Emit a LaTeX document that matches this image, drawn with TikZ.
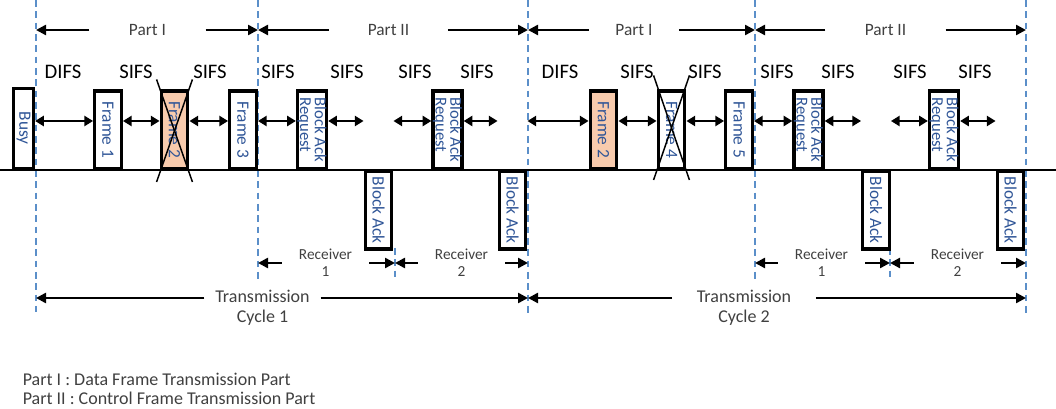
\documentclass[tikz,border=0pt]{standalone}
\usepackage{fontspec}
\setsansfont{Carlito}
\usetikzlibrary{arrows.meta, positioning, calc}
\definecolor{cblue}{HTML}{2F5597}
\definecolor{cdash}{HTML}{5B8FC9}
\definecolor{corange}{HTML}{F8CBAD}
\definecolor{cgrey}{HTML}{404040}
\tikzset{
  every picture/.style={font=\sffamily, line width=1.2pt},
  pkt/.style={draw=black, fill=#1, line width=2.4pt, minimum width=20pt, minimum height=58pt, inner sep=0pt, text=cblue, font=\sffamily\fontsize{13}{14}\selectfont},
  pkt/.default=white,
  ctrl/.style={pkt, font=\sffamily\fontsize{12.5}{12}\selectfont},
  arrow/.style={-{Triangle[length=7.5pt, width=7.5pt]}, draw=black, line width=1.8pt},
  gap/.style={{Triangle[length=6.5pt, width=7.5pt]}-{Triangle[length=6.5pt, width=7.5pt]}, draw=black, line width=1.8pt},
  guide/.style={draw=cdash, line width=1.1pt, dash pattern=on 5pt off 3.5pt},
  cross/.style={draw=black, line width=1.1pt},
  ifs/.style={font=\sffamily\fontsize{15.5}{16}\selectfont},
  part/.style={font=\sffamily\fontsize{13}{14}\selectfont, text=cgrey, inner sep=0pt},
  rcv/.style={font=\sffamily\fontsize{11.5}{12.8}\selectfont, text=cgrey, align=center, inner sep=0pt, minimum width=64.5pt},
  cyc/.style={font=\sffamily\fontsize{13.5}{15}\selectfont, text=cgrey, align=center, inner sep=0pt},
}

\begin{document}
\begin{tikzpicture}[x=0.75pt, y=-0.75pt]
  \useasboundingbox (0,0) rectangle (1056,409);
  % cycle borders and rows
  \coordinate (t0) at (36,0);
  \coordinate (t1) at (258,0);
  \coordinate (t2) at (528,0);
  \coordinate (t3) at (755,0);
  \coordinate (t4) at (1026,0);
  \coordinate (m1) at (395,248);
  \coordinate (m2) at (890,248);
  \coordinate (grow) at (0,121);
  \coordinate (crow) at (0,298);
  \draw[guide] (t0) -- ++(0,312);
  \draw[guide] (t1) -- ++(0,280);
  \draw[guide] (t2) -- ++(0,315);
  \draw[guide] (t3) -- ++(0,280);
  \draw[guide] (t4) -- ++(0,315);
  \draw[guide] (m1) -- ++(0,30);
  \draw[guide] (m2) -- ++(0,30);
  \draw[line width=1.5pt] (0,170) -- (1056,170);

  % parts
  \node[part, minimum width=86pt] (pa) at (147.5,30) {Part I};
  \node[part, minimum width=88pt] (pb) at (388.5,30) {Part II};
  \node[part, minimum width=66pt] (pc) at (634,30) {Part I};
  \node[part, minimum width=89pt] (pd) at (885.5,30) {Part II};
  \draw[arrow] (pa.west) -- (pa.west -| t0);
  \draw[arrow] (pa.east) -- (pa.east -| t1);
  \draw[arrow] (pb.west) -- (pb.west -| t1);
  \draw[arrow] (pb.east) -- (pb.east -| t2);
  \draw[arrow] (pc.west) -- (pc.west -| t2);
  \draw[arrow] (pc.east) -- (pc.east -| t3);
  \draw[arrow] (pd.west) -- (pd.west -| t3);
  \draw[arrow] (pd.east) -- (pd.east -| t4);

  % interframe spaces
  \node[ifs] (sa) at (63,72) {DIFS};
  \node[ifs] (sb) at (136,72) {SIFS};
  \node[ifs] (sc) at (210,72) {SIFS};
  \node[ifs] (sd) at (278,72) {SIFS};
  \node[ifs] (se) at (347,72) {SIFS};
  \node[ifs] (sf) at (415,72) {SIFS};
  \node[ifs] (sg) at (477,72) {SIFS};
  \node[ifs] (sh) at (560,72) {DIFS};
  \node[ifs] (si) at (637,72) {SIFS};
  \node[ifs] (sj) at (705,72) {SIFS};
  \node[ifs] (sk) at (777,72) {SIFS};
  \node[ifs] (sl) at (838,72) {SIFS};
  \node[ifs] (sm) at (910,72) {SIFS};
  \node[ifs] (sn) at (975,72) {SIFS};

  % frames, cycle 1
  \node[pkt, anchor=south, minimum width=15pt, minimum height=60pt] (busy) at (23.5,170) {\rotatebox{-90}{Busy}};
  \node[pkt, anchor=south] (fa) at (108,170) {\rotatebox{-90}{Frame 1}};
  \node[pkt=corange, anchor=south] (fb) at (174.5,170) {\rotatebox{-90}{Frame 2}};
  \node[pkt, anchor=south] (fc) at (243,170) {\rotatebox{-90}{Frame 3}};
  \node[ctrl, anchor=south] (bara) at (312,170) {\rotatebox{-90}{\shortstack[l]{Block Ack\\Request}}};
  \node[pkt, anchor=north] (baa) at (378.5,170) {\rotatebox{-90}{Block Ack}};
  \node[ctrl, anchor=south] (barb) at (447.5,170) {\rotatebox{-90}{\shortstack[l]{Block Ack\\Request}}};
  \node[pkt, anchor=north] (bab) at (512.5,170) {\rotatebox{-90}{Block Ack}};
  % frames, cycle 2
  \node[pkt=corange, anchor=south] (fd) at (603.5,170) {\rotatebox{-90}{Frame 2}};
  \node[pkt, anchor=south] (fe) at (671.5,170) {\rotatebox{-90}{Frame 4}};
  \node[pkt, anchor=south] (ff) at (739,170) {\rotatebox{-90}{Frame 5}};
  \node[ctrl, anchor=south] (barc) at (808.5,170) {\rotatebox{-90}{\shortstack[l]{Block Ack\\Request}}};
  \node[pkt, anchor=north] (bac) at (876,170) {\rotatebox{-90}{Block Ack}};
  \node[ctrl, anchor=south] (bard) at (944,170) {\rotatebox{-90}{\shortstack[l]{Block Ack\\Request}}};
  \node[pkt, anchor=north] (bad) at (1010.5,170) {\rotatebox{-90}{Block Ack}};

  % lost frames
  \draw[cross] ([shift={(-3,-10)}]fb.north west) -- ([shift={(3,12)}]fb.south east);
  \draw[cross] ([shift={(3,-10)}]fb.north east) -- ([shift={(-3,12)}]fb.south west);
  \draw[cross] ([shift={(-3,-14)}]fe.north west) -- ([shift={(3,10)}]fe.south east);
  \draw[cross] ([shift={(3,-14)}]fe.north east) -- ([shift={(-3,10)}]fe.south west);

  % gaps between frames
  \draw[gap] (busy.east |- grow) -- (fa.west |- grow);
  \draw[gap] (fa.east |- grow) -- (fb.west |- grow);
  \draw[gap] (fb.east |- grow) -- (fc.west |- grow);
  \draw[gap] (fc.east |- grow) -- (bara.west |- grow);
  \draw[gap] (bara.east |- grow) -- (baa.west |- grow);
  \draw[gap] (baa.east |- grow) -- (barb.west |- grow);
  \draw[gap] (barb.east |- grow) -- (bab.west |- grow);
  \draw[gap] (bab.east |- grow) -- (fd.west |- grow);
  \draw[gap] (fd.east |- grow) -- (fe.west |- grow);
  \draw[gap] (fe.east |- grow) -- (ff.west |- grow);
  \draw[gap] (ff.east |- grow) -- (barc.west |- grow);
  \draw[gap] (barc.east |- grow) -- (bac.west |- grow);
  \draw[gap] (bac.east |- grow) -- (bard.west |- grow);
  \draw[gap] (bard.east |- grow) -- (bad.west |- grow);

  % receivers
  \node[rcv] (ra) at (325.5,263) {Receiver\\1};
  \node[rcv] (rb) at (461.5,263) {Receiver\\2};
  \node[rcv] (rc) at (821.5,263) {Receiver\\1};
  \node[rcv] (rd) at (957.5,263) {Receiver\\2};
  \draw[arrow] (ra.west) -- (ra.west -| t1);
  \draw[arrow] (ra.east) -- (ra.east -| m1);
  \draw[arrow] (rb.west) -- (rb.west -| m1);
  \draw[arrow] (rb.east) -- (rb.east -| t2);
  \draw[arrow] (rc.west) -- (rc.west -| t3);
  \draw[arrow] (rc.east) -- (rc.east -| m2);
  \draw[arrow] (rd.west) -- (rd.west -| m2);
  \draw[arrow] (rd.east) -- (rd.east -| t4);

  % transmission cycles
  \node[cyc, minimum width=86pt] (ca) at (262.5,308) {Transmission\\Cycle 1};
  \node[cyc, minimum width=106.5pt] (cb) at (744,308) {Transmission\\Cycle 2};
  \draw[arrow] (ca.west |- crow) -- (t0 |- crow);
  \draw[arrow] (ca.east |- crow) -- (t2 |- crow);
  \draw[arrow] (cb.west |- crow) -- (t2 |- crow);
  \draw[arrow] (cb.east |- crow) -- (t4 |- crow);

  \node[font=\sffamily\fontsize{13.5}{14.3}\selectfont, text=cgrey, align=left, anchor=west, inner sep=0pt] (legend) at (22,388.5) {Part I : Data Frame Transmission Part\\Part II : Control Frame Transmission Part};
\end{tikzpicture}
\end{document}
